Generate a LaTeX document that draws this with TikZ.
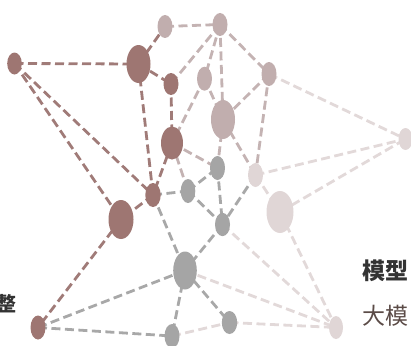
\documentclass[tikz,border=0pt]{standalone}
\usepackage{fontspec}
\newfontfamily\cjk{Noto Sans CJK SC}
\usetikzlibrary{shapes.geometric,backgrounds}
\definecolor{cdark}{HTML}{9E7672}
\definecolor{cmauve}{HTML}{C1AEAE}
\definecolor{cgray}{HTML}{A5A5A5}
\definecolor{cvl}{HTML}{E0D6D6}
\definecolor{edark}{HTML}{A07B78}
\definecolor{emauve}{HTML}{C4B3B3}
\definecolor{egray}{HTML}{A8A8A8}
\definecolor{evl}{HTML}{E2D9D9}
\definecolor{tdark}{HTML}{333333}
\definecolor{tbrown}{HTML}{5B4B47}
\tikzset{
  dot/.style={ellipse, inner sep=0pt, draw=none},
  nd/.style={dot, fill=cdark},
  nm/.style={dot, fill=cmauve},
  ng/.style={dot, fill=cgray},
  nv/.style={dot, fill=cvl},
  sz/.style 2 args={minimum width=#1pt, minimum height=#2pt},
  link/.style={line width=2.8pt, dash pattern=on 9pt off 4.5pt},
  ld/.style={link, draw=edark},
  lm/.style={link, draw=emauve},
  lg/.style={link, draw=egray},
  lv/.style={link, draw=evl},
  lbl/.style={inner sep=0pt, font=\cjk\fontsize{23}{26}\selectfont}
}
\begin{document}
\begin{tikzpicture}[x=1pt,y=-1pt]
\useasboundingbox (0,0) rectangle (411,345);
\node[nd, sz={14.6}{22}] (A) at (14.5,63.5) {};
\node[nd, sz={24}{38}] (B) at (138.5,64) {};
\node[nm, sz={15}{23}] (C) at (165,26.5) {};
\node[nd, sz={15}{22}] (D) at (171,84) {};
\node[nd, sz={22}{33}] (E) at (172,143) {};
\node[nm, sz={15}{23}] (F) at (220,24.5) {};
\node[nm, sz={15}{24}] (G) at (204.5,78.7) {};
\node[nm, sz={15}{24}] (H) at (269,74) {};
\node[nm, sz={24}{39}] (I) at (223,119.5) {};
\node[nv, sz={14}{22}] (J) at (405.5,139) {};
\node[nv, sz={15}{24}] (K) at (255.5,175) {};
\node[nv, sz={27}{42}] (L) at (280,212) {};
\node[ng, sz={15}{24}] (M) at (217.5,168) {};
\node[ng, sz={14.6}{24}] (N) at (188,191) {};
\node[nd, sz={15.4}{24}] (O) at (153,195) {};
\node[nd, sz={25}{39}] (P) at (121,219.5) {};
\node[ng, sz={15}{23.4}] (Q) at (222.5,224.5) {};
\node[ng, sz={23.6}{38}] (R) at (185,270.5) {};
\node[nd, sz={15}{24}] (S) at (38,327.5) {};
\node[ng, sz={15}{24}] (T) at (172,336) {};
\node[ng, sz={15.4}{23}] (U) at (229.5,322.5) {};
\node[nv, sz={14}{23}] (V) at (336,327.5) {};
\begin{pgfonlayer}{background}
\foreach \a/\b in {A/B,A/P,A/O,B/C,B/D,B/O,D/E,E/O,O/P,P/S}
  \draw[ld] (\a.center) -- (\b.center);
\foreach \a/\b in {C/F,F/D,F/G,F/I,F/H,G/E,G/I,H/I,H/K,I/K,I/M,E/M,E/N}
  \draw[lm] (\a.center) -- (\b.center);
\foreach \a/\b in {O/N,N/M,N/Q,M/Q,O/R,Q/R,K/Q,R/S,S/T,R/T,R/U}
  \draw[lg] (\a.center) -- (\b.center);
\foreach \a/\b in {Q/V,R/V,T/U,U/V,L/V,K/L,K/J,L/J,H/J}
  \draw[lv] (\a.center) -- (\b.center);
\end{pgfonlayer}
\node[lbl, anchor=base west, text=tdark, font=\cjk\bfseries\fontsize{23}{26}\selectfont] (t1) at (362,279) {模型};
\node[lbl, anchor=base west, text=tbrown] (t2) at (362,324) {大模};
\node[lbl, anchor=base east, text=tdark, font=\cjk\bfseries\fontsize{20}{24}\selectfont] (t3) at (17,311) {整};
\end{tikzpicture}
\end{document}
